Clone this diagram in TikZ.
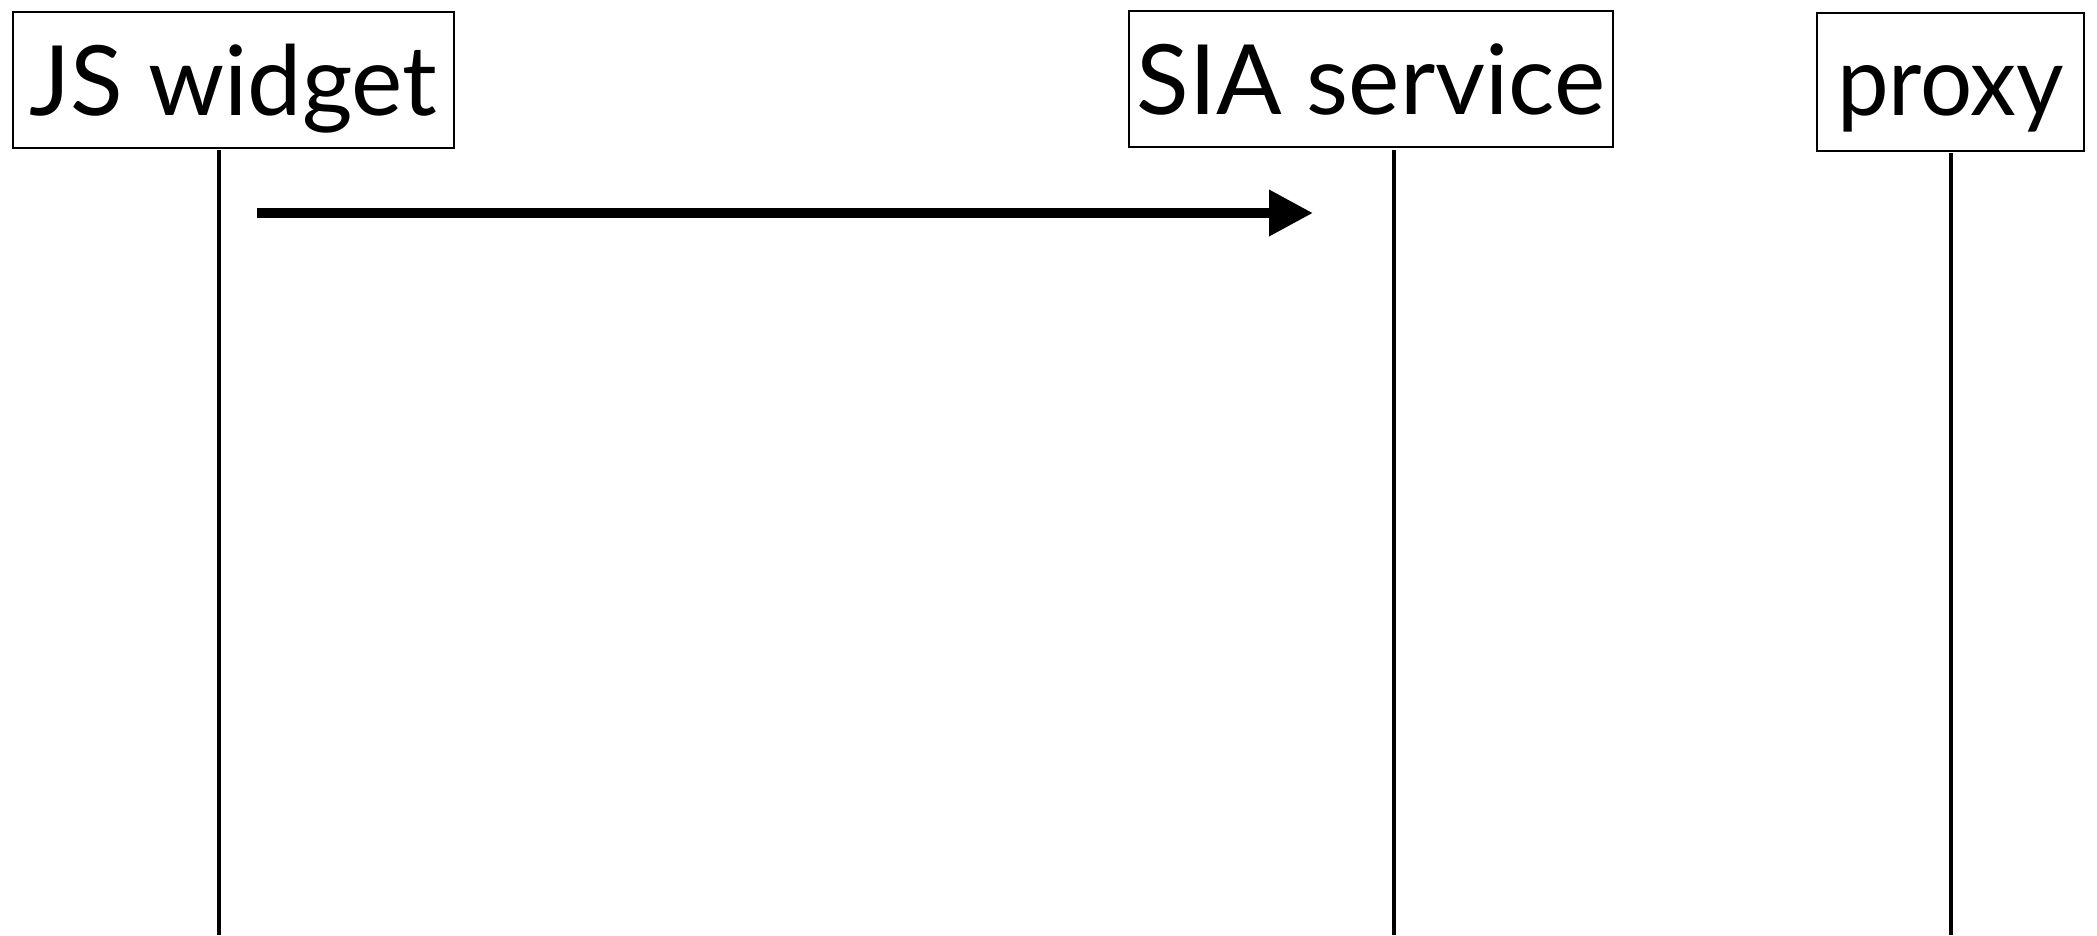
\documentclass[tikz,border=0pt]{standalone}
\usepackage{fontspec}
\setmainfont{Lato}
\usetikzlibrary{arrows.meta}
\tikzset{
	actor/.style={draw, line width=2pt, inner sep=0pt, text height=103pt, text depth=33pt,
		font=\fontsize{97}{110}\selectfont},
	lifeline/.style={line width=4pt},
	message/.style={line width=10pt, -{Triangle[length=44pt,width=44pt]}}
}
% x, y top, y bottom
\newcommand{\drawlifeline}[3]{
	\draw[lifeline] (#1, #2) -- (#1, #3);
}

\begin{document}
\begin{tikzpicture}[x=1pt, y=-1pt]
\useasboundingbox (0, 0) rectangle (2097, 935);

\node[actor, minimum width=441pt] (widget) at (233.5, 80) {JS widget};
\node[actor, minimum width=484pt] (service) at (1371, 79) {SIA service};
\node[actor, minimum width=267pt, text height=102pt, text depth=36pt] (proxy) at (1950.5, 82) {\scalebox{0.95}[1]{proxy}};

\drawlifeline{219}{150}{935};
\drawlifeline{1394}{150}{935};
\drawlifeline{1951}{153}{935};

\coordinate (msgStart) at (257, 213);
\coordinate (msgEnd) at (1313, 213);
\draw[message] (msgStart) -- (msgEnd);

\end{tikzpicture}
\end{document}
